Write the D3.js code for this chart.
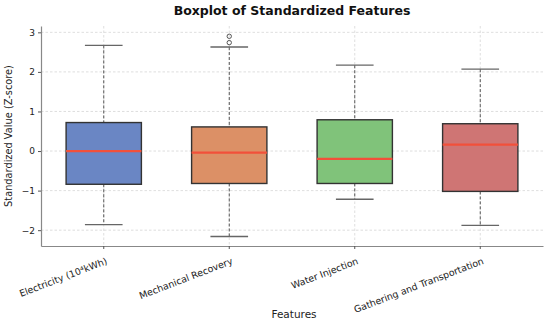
<!DOCTYPE html>
<html>
<head>
<meta charset="utf-8">
<script src="https://cdn.jsdelivr.net/npm/d3@7"></script>
<style>
  body { margin: 0; background: #fff; }
  text { font-family: "DejaVu Sans", sans-serif; }
</style>
</head>
<body>
<svg></svg>
<script>
// Data
const features = ["Electricity (10⁴kWh)", "Mechanical Recovery", "Water Injection", "Gathering and Transportation"];
const whiskerLow = [-1.86, -2.16, -1.22, -1.88];
const q1 = [-0.84, -0.82, -0.82, -1.02];
const median = [0.00, -0.04, -0.20, 0.16];
const q3 = [0.72, 0.61, 0.79, 0.69];
const whiskerHigh = [2.67, 2.63, 2.17, 2.07];
const outliers = [[], [2.74, 2.90], [], []];
const yTicks = [-2, -1, 0, 1, 2, 3];
const boxColors = ["#6a86c4", "#dc9066", "#80c37a", "#cf7574"];

const width = 550;
const height = 322;
const marginTop = 26;
const marginRight = 7;
const marginBottom = 76;
const marginLeft = 41;

const svg = d3.select("svg")
    .attr("width", width)
    .attr("height", height)
    .attr("viewBox", [0, 0, width, height]);

const x = d3.scaleBand(features, [marginLeft, width - marginRight])
    .paddingInner(0.4)
    .paddingOuter(0.2);
const xc = d => x(d) + x.bandwidth() / 2;
const y = d3.scaleLinear([-2.4, 3.16], [height - marginBottom, marginTop]);

// grid
svg.append("g")
    .selectAll("line")
    .data(yTicks)
    .join("line")
    .attr("x1", marginLeft).attr("x2", width - marginRight)
    .attr("y1", d => y(d)).attr("y2", d => y(d))
    .attr("stroke", "#d6d6d6").attr("stroke-width", 0.8)
    .attr("stroke-dasharray", "2.5,2");
svg.append("g")
    .selectAll("line")
    .data(features)
    .join("line")
    .attr("x1", d => xc(d)).attr("x2", d => xc(d))
    .attr("y1", marginTop).attr("y2", height - marginBottom)
    .attr("stroke", "#d6d6d6").attr("stroke-width", 0.8)
    .attr("stroke-dasharray", "2.5,2");

// y axis
svg.append("g")
    .attr("transform", `translate(${marginLeft},0)`)
    .call(d3.axisLeft(y).tickValues(yTicks).tickFormat(d => d < 0 ? "\u2212" + (-d) : d).tickSize(3).tickSizeOuter(0))
    .call(g => g.select(".domain").attr("stroke", "#888").attr("stroke-width", 1.2))
    .call(g => g.selectAll(".tick line").attr("stroke", "#555"))
    .call(g => g.selectAll(".tick text").attr("font-size", 9).attr("fill", "#222")
        .attr("font-family", "DejaVu Sans"));

// x axis
svg.append("g")
    .attr("transform", `translate(0,${height - marginBottom})`)
    .call(d3.axisBottom(x).tickSize(3).tickSizeOuter(0))
    .call(g => g.select(".domain").attr("stroke", "#888").attr("stroke-width", 1.2))
    .call(g => g.selectAll(".tick line").attr("stroke", "#555"))
    .call(g => g.selectAll(".tick text")
        .attr("font-size", 9.4).attr("fill", "#222").attr("font-family", "DejaVu Sans")
        .attr("text-anchor", "end")
        .attr("dy", 0)
        .attr("transform", "translate(2,12) rotate(-21)"));

// boxes
const boxes = svg.append("g")
    .selectAll("g")
    .data(features)
    .join("g");

boxes.append("line")
    .attr("x1", d => xc(d)).attr("x2", d => xc(d))
    .attr("y1", (d, i) => y(whiskerHigh[i])).attr("y2", (d, i) => y(q3[i]))
    .attr("stroke", "#555").attr("stroke-width", 1).attr("stroke-dasharray", "3,2");
boxes.append("line")
    .attr("x1", d => xc(d)).attr("x2", d => xc(d))
    .attr("y1", (d, i) => y(q1[i])).attr("y2", (d, i) => y(whiskerLow[i]))
    .attr("stroke", "#555").attr("stroke-width", 1).attr("stroke-dasharray", "3,2");

// caps
[whiskerHigh, whiskerLow].forEach(arr => {
    boxes.append("line")
        .attr("x1", d => xc(d) - x.bandwidth() / 4).attr("x2", d => xc(d) + x.bandwidth() / 4)
        .attr("y1", (d, i) => y(arr[i])).attr("y2", (d, i) => y(arr[i]))
        .attr("stroke", "#666").attr("stroke-width", 1.4);
});

boxes.append("rect")
    .attr("x", d => x(d))
    .attr("width", x.bandwidth())
    .attr("y", (d, i) => y(q3[i]))
    .attr("height", (d, i) => y(q1[i]) - y(q3[i]))
    .attr("fill", (d, i) => boxColors[i])
    .attr("stroke", "#333").attr("stroke-width", 1.4);

boxes.append("line")
    .attr("x1", d => x(d)).attr("x2", d => x(d) + x.bandwidth())
    .attr("y1", (d, i) => y(median[i])).attr("y2", (d, i) => y(median[i]))
    .attr("stroke", "#f2503a").attr("stroke-width", 2.2);

boxes.selectAll("circle")
    .data((d, i) => outliers[i].map(v => ({ f: d, v })))
    .join("circle")
    .attr("cx", o => xc(o.f))
    .attr("cy", o => y(o.v))
    .attr("r", 2.2)
    .attr("fill", "none").attr("stroke", "#555").attr("stroke-width", 1);

// labels
svg.append("text")
    .attr("x", 292).attr("y", 15)
    .attr("text-anchor", "middle")
    .attr("font-size", 12.5).attr("font-weight", "bold").attr("fill", "#111")
    .text("Boxplot of Standardized Features");

svg.append("text")
    .attr("transform", `translate(12,${(marginTop + height - marginBottom) / 2}) rotate(-90)`)
    .attr("text-anchor", "middle")
    .attr("font-size", 9.8).attr("fill", "#222")
    .text("Standardized Value (Z-score)");

svg.append("text")
    .attr("x", 294).attr("y", 318)
    .attr("text-anchor", "middle")
    .attr("font-size", 10.5).attr("fill", "#222")
    .text("Features");
</script>
</body>
</html>
